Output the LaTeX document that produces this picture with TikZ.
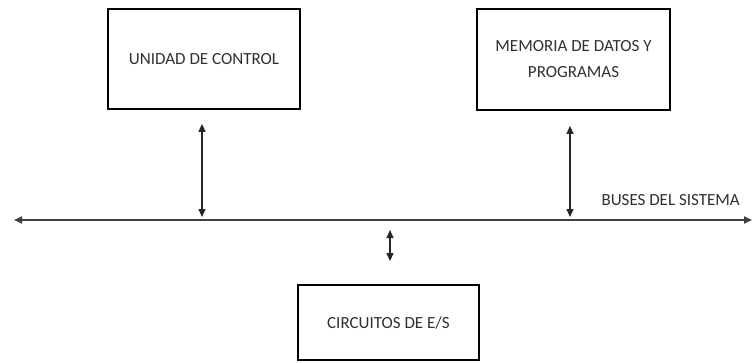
\documentclass[tikz,border=0pt]{standalone}
\usepackage{fontspec}
\setmainfont{Carlito}
\usetikzlibrary{arrows.meta,positioning}
\definecolor{Texto}{HTML}{303030}

\begin{document}
\begin{tikzpicture}[x=1pt,y=-1pt,font=\fontsize{17}{26}\selectfont,>={Triangle[length=8pt,width=7pt]},
 bloque/.style={draw=black,line width=1.8pt,text=Texto,align=center,inner sep=0pt},
 flecha/.style={<->,line width=1.2pt,black!85}]
\useasboundingbox (0,0) rectangle (753,362);
\node[bloque,minimum width=192pt,minimum height=100pt] (uc) at (204,59) {UNIDAD DE CONTROL};
\node[bloque,minimum width=193pt,minimum height=101pt] (mem) at (573.5,59.5) {MEMORIA DE DATOS Y\\PROGRAMAS};
\node[bloque,minimum width=181pt,minimum height=75pt] (es) at (388.5,322.5) {CIRCUITOS DE E/S};
\coordinate (busI) at (14,220);
\coordinate (busD) at (752,220);
\node[text=Texto,anchor=west] (buses) at (598,200) {BUSES DEL SISTEMA};
% bus del sistema
\draw[<->,line width=1.8pt,black!75] (busI)--(busD);
\coordinate (b1) at (202,220);
\coordinate (b2) at (570,220);
\coordinate (b3) at (390,220);
\draw[flecha,shorten <=14pt,shorten >=3pt] ([xshift=-2pt]uc.south)--(b1);
\draw[flecha,shorten <=15pt,shorten >=3pt] ([xshift=-3.5pt]mem.south)--(b2);
\draw[flecha,shorten <=23pt,shorten >=10pt] ([xshift=1.5pt]es.north)--(b3);
\end{tikzpicture}
\end{document}
